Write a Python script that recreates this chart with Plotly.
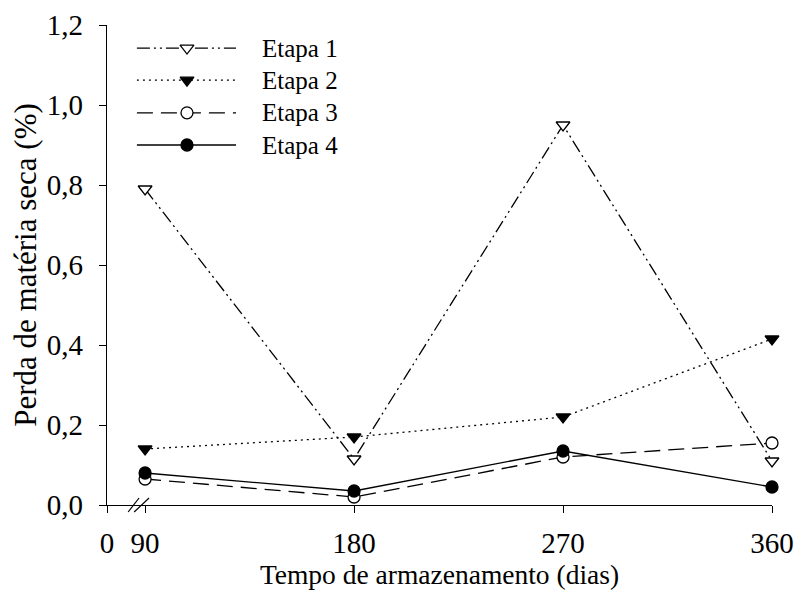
import plotly.graph_objects as go

# Storage time (days) and dry-matter loss (%) per stage
dias = [90, 180, 270, 360]
etapa1 = [0.79, 0.115, 0.95, 0.11]
etapa2 = [0.14, 0.17, 0.22, 0.415]
etapa3 = [0.065, 0.02, 0.12, 0.155]
etapa4 = [0.08, 0.035, 0.135, 0.045]

series_names = ["Etapa 1", "Etapa 2", "Etapa 3", "Etapa 4"]
x_ticks = [90, 180, 270, 360]
y_ticks = [0.0, 0.2, 0.4, 0.6, 0.8, 1.0, 1.2]

# Axis origin drawn just left of 90 (broken axis), labelled "0"
X_ORIGIN = 73.6

FONT = "Liberation Serif"

# open symbols are drawn with a white fill so lines do not show through
styles = [
    dict(dash="13px,4px,2px,4px,2px,4px", symbol="triangle-down", fill="white"),
    dict(dash="2px,4px", symbol="triangle-down", fill="black"),
    dict(dash="16px,8px", symbol="circle", fill="white"),
    dict(dash="solid", symbol="circle", fill="black"),
]
values = [etapa1, etapa2, etapa3, etapa4]

fig = go.Figure()
for name, vals, st in zip(series_names, values, styles):
    fig.add_trace(go.Scatter(
        x=dias, y=vals, name=name, mode="lines+markers",
        line=dict(color="black", width=1.3, dash=st["dash"]),
        marker=dict(symbol=st["symbol"], size=12, color=st["fill"],
                    line=dict(color="black", width=1.3)),
        showlegend=False, cliponaxis=False,
    ))

# Hand-built legend on an overlay axis spanning the plot area
leg_rows = [0.952, 0.885, 0.817, 0.75]
for name, st, ry in zip(series_names, styles, leg_rows):
    fig.add_trace(go.Scatter(
        x=[0.045, 0.194], y=[ry, ry], mode="lines", xaxis="x2", yaxis="y2",
        line=dict(color="black", width=1.3, dash=st["dash"]),
        showlegend=False, hoverinfo="skip",
    ))
    fig.add_trace(go.Scatter(
        x=[0.1203], y=[ry], mode="markers", xaxis="x2", yaxis="y2",
        marker=dict(symbol=st["symbol"], size=12, color=st["fill"],
                    line=dict(color="black", width=1.3)),
        showlegend=False, hoverinfo="skip",
    ))
    fig.add_annotation(x=0.230, y=ry, xref="paper", yref="paper", text=name,
                       showarrow=False, xanchor="left", yanchor="middle",
                       font=dict(family=FONT, size=25, color="black"))

# Axis break marks
for xa, xb in [(82.7, 87.4), (85.3, 91.7)]:
    fig.add_shape(type="line", xref="x", yref="paper", ysizemode="pixel",
                  yanchor=0, x0=xa, x1=xb, y0=-7, y1=7,
                  line=dict(color="black", width=1.2))

fig.update_layout(
    width=797, height=592,
    margin=dict(l=107, r=25, t=25, b=87),
    paper_bgcolor="white", plot_bgcolor="white",
    separators=",.",
    font=dict(family=FONT, size=24, color="black"),
    xaxis=dict(
        range=[X_ORIGIN, 360], automargin=False,
        tickvals=[X_ORIGIN] + x_ticks,
        ticktext=["0"] + [str(v) for v in x_ticks],
        ticks="outside", ticklen=7, tickwidth=1.2, tickcolor="black",
        showline=True, linecolor="black", linewidth=1.2,
        showgrid=False, zeroline=False, ticklabelstandoff=5,
        title=dict(text="Tempo de armazenamento (dias)", standoff=0,
                   font=dict(family=FONT, size=27.5)),
        tickfont=dict(family=FONT, size=29),
    ),
    yaxis=dict(
        range=[0, 1.2], automargin=False,
        tickvals=y_ticks, tickformat=".1f",
        ticks="outside", ticklen=7, tickwidth=1.2, tickcolor="black",
        showline=True, linecolor="black", linewidth=1.2,
        showgrid=False, zeroline=False, ticklabelstandoff=10,
        title=dict(text="Perda de matéria seca (%)", standoff=0,
                   font=dict(family=FONT, size=31)),
        tickfont=dict(family=FONT, size=29),
    ),
    xaxis2=dict(overlaying="x", range=[0, 1], visible=False, fixedrange=True),
    yaxis2=dict(overlaying="y", range=[0, 1], visible=False, fixedrange=True),
)

fig.write_html("out.html")
